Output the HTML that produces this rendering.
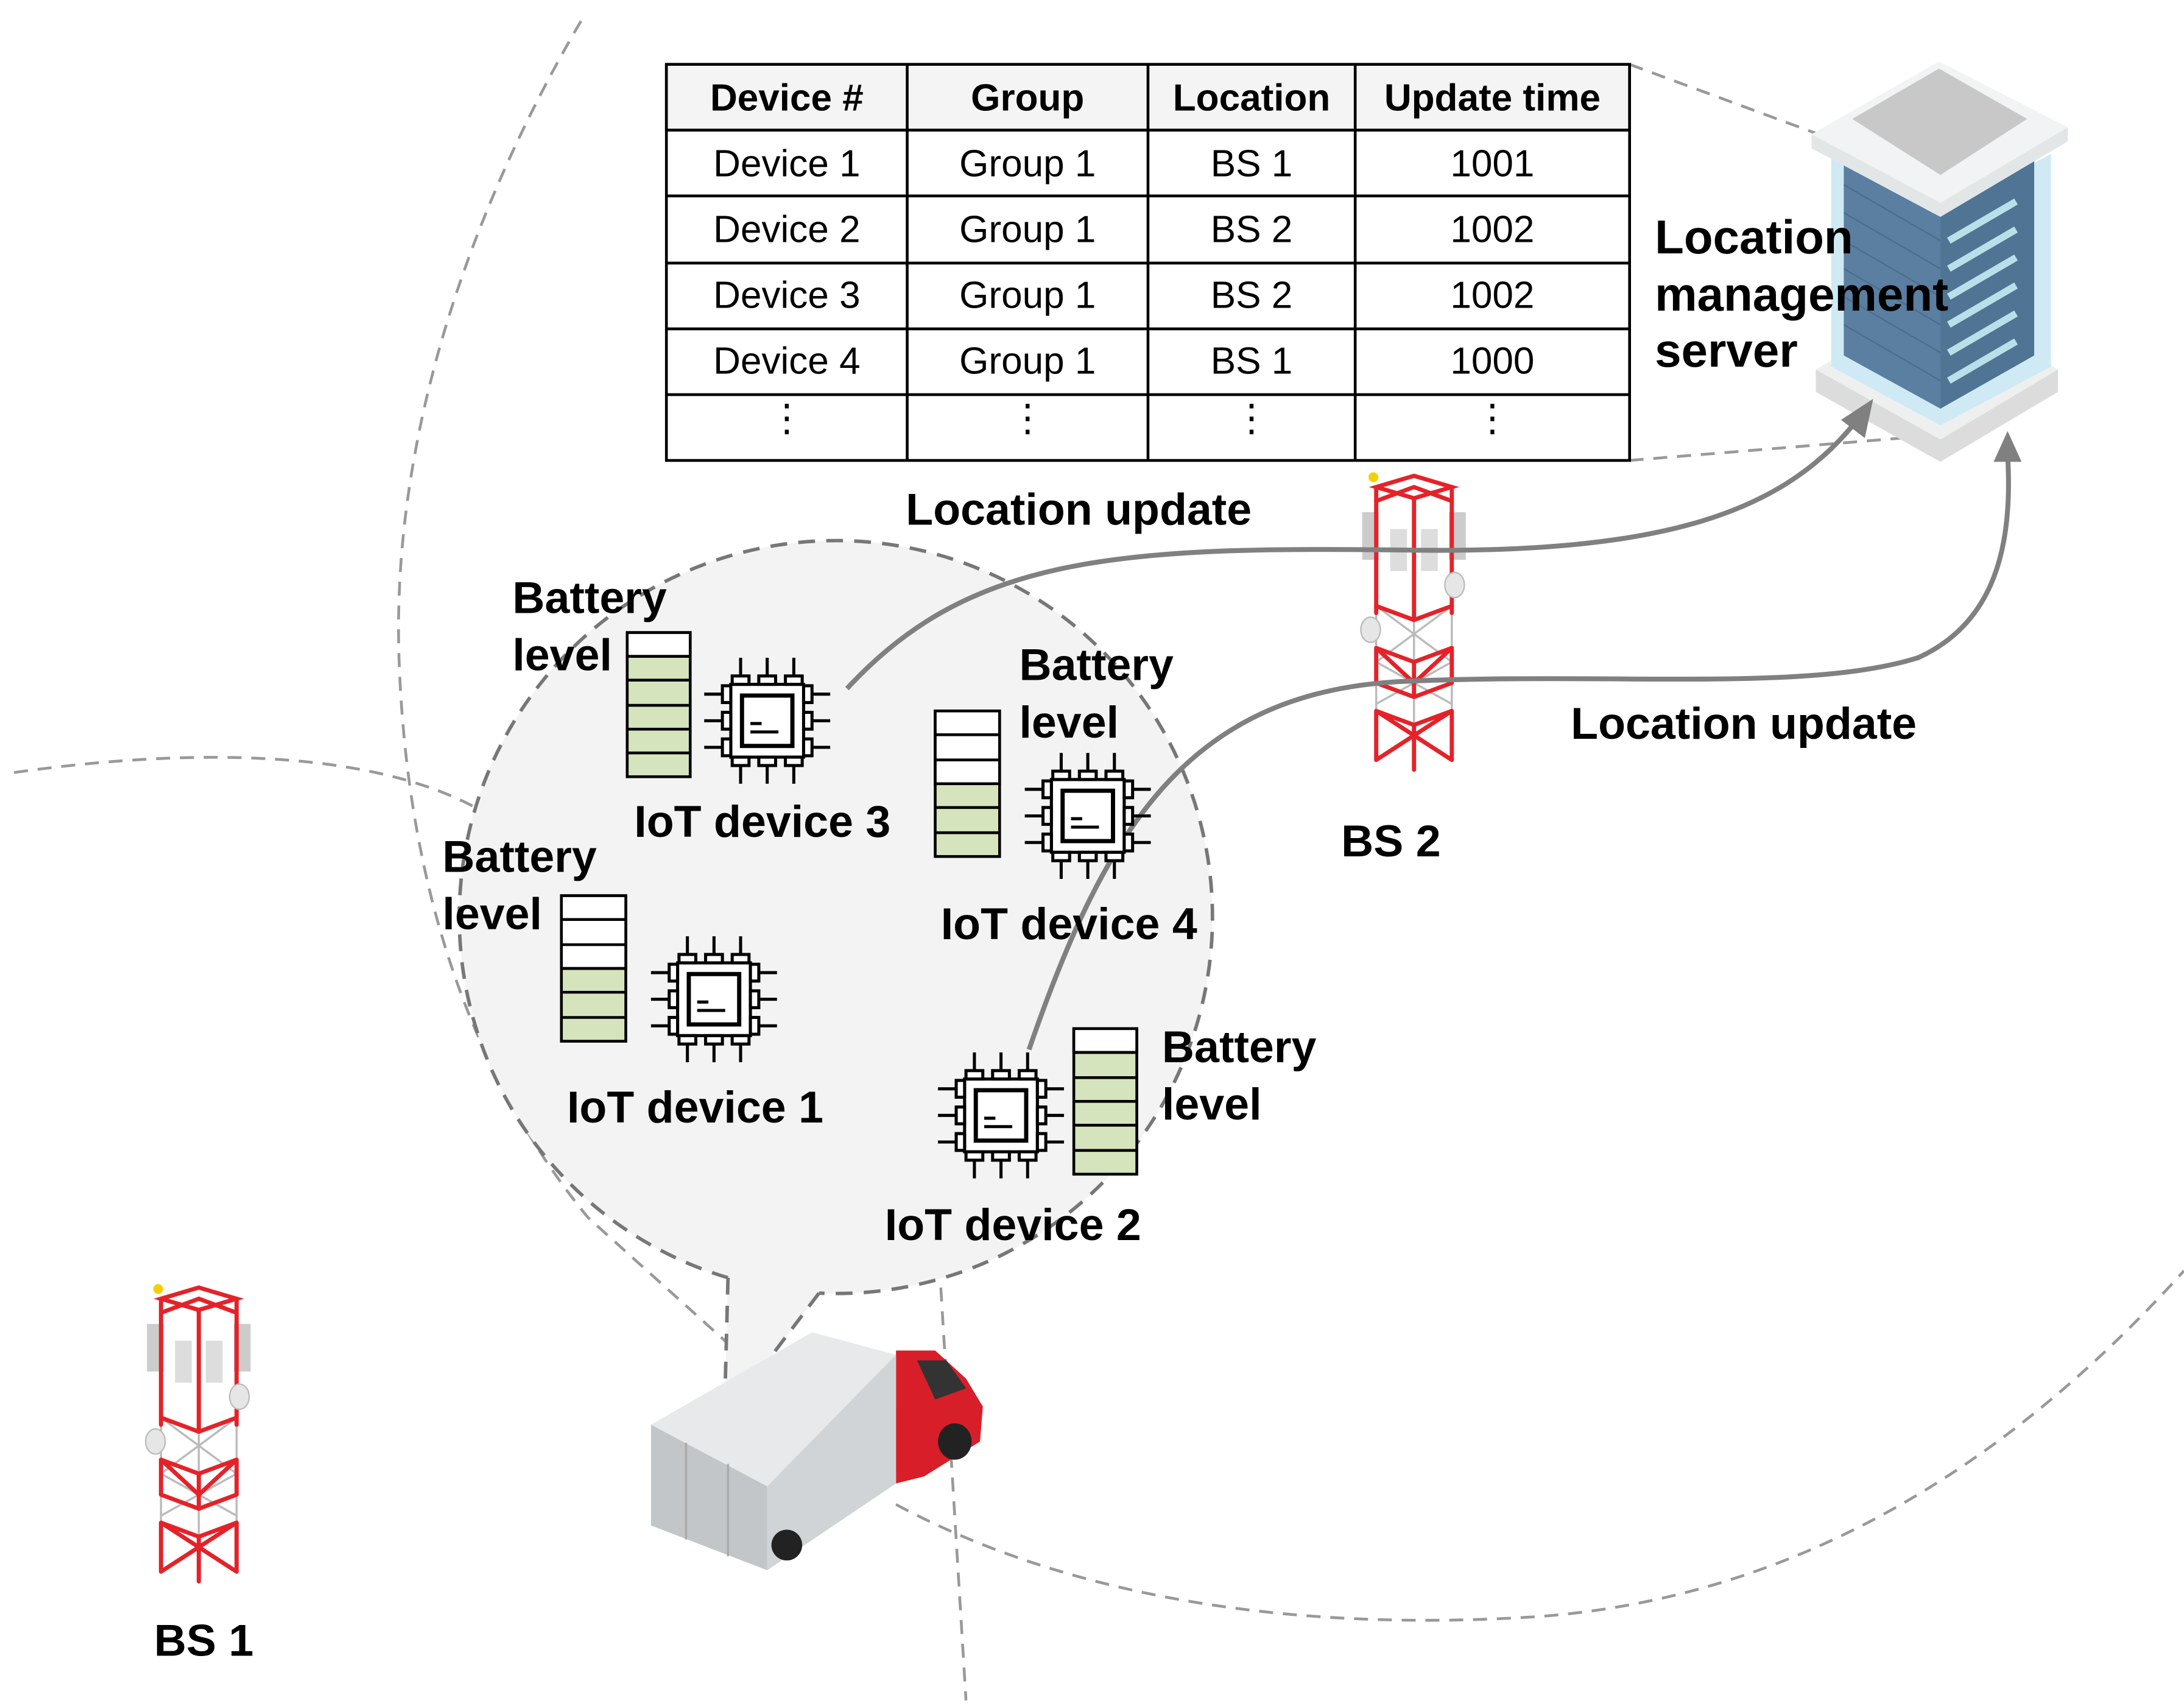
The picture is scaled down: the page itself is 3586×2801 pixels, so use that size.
<!DOCTYPE html>
<html><head><meta charset="utf-8"><style>html,body{margin:0;padding:0;background:#fff;}svg{display:block}</style></head>
<body>
<svg width="3586" height="2801" viewBox="0 0 1560 1219" preserveAspectRatio="none" xmlns="http://www.w3.org/2000/svg" font-family="Liberation Sans, sans-serif">
<defs>
<g id="chip" fill="none" stroke="#000" stroke-width="2.2">
  <rect x="-26" y="-26" width="52" height="52" fill="#fff"/>
  <rect x="-18" y="-18" width="36" height="36" stroke-width="3"/>
  <line x1="-12" y1="2" x2="-4" y2="2"/><line x1="-12" y1="8" x2="8" y2="8"/>
  <g id="pads">
   <rect x="-25" y="-32" width="12" height="6" fill="#fff"/><rect x="-6" y="-32" width="12" height="6" fill="#fff"/><rect x="13" y="-32" width="12" height="6" fill="#fff"/>
   <line x1="-19" y1="-32" x2="-19" y2="-45"/><line x1="0" y1="-32" x2="0" y2="-45"/><line x1="19" y1="-32" x2="19" y2="-45"/>
  </g>
  <use href="#pads" transform="rotate(90)"/><use href="#pads" transform="rotate(180)"/><use href="#pads" transform="rotate(270)"/>
</g>
<g id="tower" fill="none" stroke-linecap="round">
  <circle cx="8" cy="3" r="3.5" fill="#f5d000"/>
  <rect x="0" y="28" width="12" height="34" fill="#ccc"/><rect x="62" y="28" width="12" height="34" fill="#ccc"/>
  <rect x="20" y="40" width="12" height="30" fill="#ddd"/><rect x="42" y="40" width="12" height="30" fill="#ddd"/>
  <g stroke="#bbb" stroke-width="1.5">
   <path d="M10 95 L64 135 M64 95 L10 135 M10 135 L64 165 M64 135 L10 165 M37 95 V205 M10 95V205 M64 95V205"/>
  </g>
  <g stroke="#e52229" stroke-width="3">
   <path d="M10 10 V100 M64 10 V100 M37 18 V105"/>
   <path d="M10 10 L37 2 L64 10 L37 18 Z"/>
   <path d="M10 95 L37 105 L64 95"/>
   <path d="M10 20 L37 10 L64 20"/>
   <path d="M10 125 L37 135 L64 125 M10 125 V150 M64 125 V150 M37 135 V160 M10 150 L37 160 L64 150 M10 125 L37 150 L64 125"/>
   <path d="M10 170 V205 M64 170 V205 M37 180 V212 M10 170 L37 180 L64 170 M10 170 L64 205 M64 170 L10 205"/>
  </g>
  <ellipse cx="66" cy="80" rx="7" ry="9" fill="#e6e6e6" stroke="#bbb"/>
  <ellipse cx="6" cy="112" rx="7" ry="9" fill="#e6e6e6" stroke="#bbb"/>
</g>
</defs>

<!-- background dashed arcs -->
<g fill="none" stroke="#999" stroke-width="2" stroke-dasharray="10 7">
  <path d="M415 15 C330 160 280 320 285 470 C290 620 330 760 420 870 L520 960"/>
  <path d="M10 552 C180 528 300 545 360 590"/>
  <path d="M640 1075 C780 1150 950 1165 1100 1155 C1300 1140 1450 1030 1560 908"/>
  <path d="M672 920 L690 1215"/>
  <path d="M1164 46 L1310 100"/>
  <path d="M1164 329 L1395 310"/>
</g>

<!-- bubble -->
<path d="M520 913 A269 269 0 1 1 585 924 L535 990 L518 990 Z" fill="#f2f3f2" stroke="none"/>
<path d="M520 913 A269 269 0 1 1 585 924 M585 924 L535 990 M520 913 L518 990" fill="none" stroke="#777" stroke-width="2.5" stroke-dasharray="12 8"/>

<!-- table -->
<g stroke="#000" stroke-width="2" fill="none">
  <rect x="476" y="46" width="688" height="47" fill="#f4f4f4"/>
  <rect x="476" y="46" width="688" height="283"/>
  <path d="M476 93H1164 M476 140H1164 M476 188H1164 M476 235H1164 M476 282H1164 M648 46V329 M820 46V329 M968 46V329"/>
</g>
<g font-size="27" text-anchor="middle" fill="#000">
  <g font-weight="bold"><text x="562" y="79">Device #</text><text x="734" y="79">Group</text><text x="894" y="79">Location</text><text x="1066" y="79">Update time</text></g>
  <text x="562" y="126">Device 1</text><text x="734" y="126">Group 1</text><text x="894" y="126">BS 1</text><text x="1066" y="126">1001</text>
  <text x="562" y="173">Device 2</text><text x="734" y="173">Group 1</text><text x="894" y="173">BS 2</text><text x="1066" y="173">1002</text>
  <text x="562" y="220">Device 3</text><text x="734" y="220">Group 1</text><text x="894" y="220">BS 2</text><text x="1066" y="220">1002</text>
  <text x="562" y="267">Device 4</text><text x="734" y="267">Group 1</text><text x="894" y="267">BS 1</text><text x="1066" y="267">1000</text>
  <text x="562" y="308">⋮</text><text x="734" y="308">⋮</text><text x="894" y="308">⋮</text><text x="1066" y="308">⋮</text>
</g>

<!-- server -->
<g transform="translate(0,-8)">
  <polygon points="1297,272 1386,322 1470,272 1470,288 1386,338 1297,288" fill="#dcdcdc"/>
  <polygon points="1297,272 1386,222 1470,272 1386,322" fill="#eef0f0"/>
  <polygon points="1308,118 1386,160 1465,118 1465,270 1386,312 1308,270" fill="#cfeaf4"/>
  <polygon points="1317,120 1386,160 1386,300 1317,262" fill="#5a7fa0"/>
  <polygon points="1386,160 1453,122 1453,262 1386,300" fill="#4f7494"/>
  <g stroke="#b9dfe9" stroke-width="5">
   <path d="M1392 180 L1440 152 M1392 200 L1440 172 M1392 220 L1440 192 M1392 240 L1440 212 M1392 260 L1440 232 M1392 280 L1440 252"/>
  </g>
  <g stroke="#4a6d8d" stroke-width="1"><path d="M1317 140 L1386 180 M1317 160 L1386 200 M1317 180 L1386 220 M1317 200 L1386 240 M1317 220 L1386 260 M1317 240 L1386 280"/></g>
  <polygon points="1294,104 1385,52 1477,99 1477,109 1386,163 1294,114" fill="#e2e6e7"/>
  <polygon points="1294,104 1385,52 1477,99 1386,153" fill="#f1f3f4"/>
  <polygon points="1323,93 1385,57 1448,93 1386,133" fill="#c8c8c8"/>
</g>
<g font-size="34" font-weight="bold" fill="#000">
  <text x="1182" y="181">Location</text><text x="1182" y="222">management</text><text x="1182" y="262">server</text>
</g>

<!-- towers -->
<use href="#tower" transform="translate(973,338)"/>
<use href="#tower" transform="translate(105,918)"/>
<g font-size="32" font-weight="bold" fill="#000"><text x="958" y="612">BS 2</text><text x="110" y="1183">BS 1</text></g>

<!-- arrows -->
<g fill="none" stroke="#808080" stroke-width="3.5">
  <path d="M605 492 C690 400 790 390 1000 393 C1180 396 1270 370 1325 302"/>
  <path d="M735 750 C790 590 850 495 1000 487 C1150 480 1290 495 1370 470 C1425 445 1438 390 1434 325"/>
</g>
<polygon points="1338,285 1332,313 1315,300" fill="#808080"/>
<polygon points="1434,308 1444,330 1424,330" fill="#808080"/>
<g font-size="32" font-weight="bold" fill="#000"><text x="647" y="375">Location update</text><text x="1122" y="528">Location update</text></g>

<!-- batteries -->
<g stroke="#000" stroke-width="2">
  <g transform="translate(448,452)"><rect width="45" height="103" fill="#d6e4bd"/><rect width="45" height="17" fill="#fff"/><path d="M0 17H45M0 34H45M0 52H45M0 69H45M0 86H45" fill="none"/></g>
  <g transform="translate(668,508)"><rect width="46" height="104" fill="#d6e4bd"/><rect width="46" height="52" fill="#fff"/><path d="M0 17H46M0 35H46M0 52H46M0 69H46M0 87H46" fill="none"/></g>
  <g transform="translate(401,640)"><rect width="46" height="104" fill="#d6e4bd"/><rect width="46" height="52" fill="#fff"/><path d="M0 17H46M0 35H46M0 52H46M0 69H46M0 87H46" fill="none"/></g>
  <g transform="translate(767,735)"><rect width="45" height="104" fill="#d6e4bd"/><rect width="45" height="17" fill="#fff"/><path d="M0 17H45M0 35H45M0 52H45M0 69H45M0 87H45" fill="none"/></g>
</g>
<use href="#chip" transform="translate(548,515)"/>
<use href="#chip" transform="translate(777,583)"/>
<use href="#chip" transform="translate(510,714)"/>
<use href="#chip" transform="translate(715,797)"/>
<g font-size="32" font-weight="bold" fill="#000">
  <text x="366" y="438">Battery</text><text x="366" y="479">level</text>
  <text x="728" y="486">Battery</text><text x="728" y="527">level</text>
  <text x="316" y="623">Battery</text><text x="316" y="664">level</text>
  <text x="830" y="759">Battery</text><text x="830" y="800">level</text>
  <text x="453" y="598">IoT device 3</text>
  <text x="672" y="671">IoT device 4</text>
  <text x="405" y="802">IoT device 1</text>
  <text x="632" y="886">IoT device 2</text>
</g>

<!-- truck -->
<g>
  <polygon points="640,965 668,965 690,985 702,1005 700,1030 660,1055 640,1060" fill="#d81e28"/>
  <polygon points="655,972 676,972 690,992 668,1000" fill="#333"/>
  <ellipse cx="682" cy="1030" rx="12" ry="13" fill="#222"/>
  <polygon points="465,1018 580,952 640,968 548,1062" fill="#e7e9ea"/>
  <polygon points="548,1062 640,968 640,1060 548,1122" fill="#d1d4d6"/>
  <polygon points="465,1018 548,1062 548,1122 465,1090" fill="#c3c6c8"/>
  <path d="M490 1031 V1100 M520 1046 V1112" stroke="#aaa" stroke-width="1.5"/>
  <ellipse cx="562" cy="1104" rx="11" ry="11" fill="#222"/>
</g>
</svg>
</body></html>
